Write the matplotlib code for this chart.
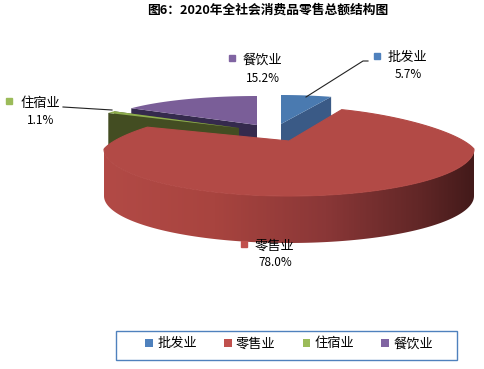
import numpy as np
import matplotlib
matplotlib.use("Agg")
import matplotlib.pyplot as plt
from matplotlib.patches import Polygon, Rectangle, Patch
from matplotlib.colors import LinearSegmentedColormap

plt.rcParams["font.family"] = ["Noto Sans CJK SC", "DejaVu Sans"]

title = "图6：2020年全社会消费品零售总额结构图"
categories = ["批发业", "零售业", "住宿业", "餐饮业"]
values = [5.7, 78.0, 1.1, 15.2]
colors = ["#4f81bd", "#c0504d", "#9bbb59", "#8064a2"]
top_colors = ["#4a7ab0", "#b24a46", "#8fae4f", "#7a5e98"]
side_colors = ["#3a5a86", "#b24a46", "#434d22", "#352a4d"]

# cx, cy, rx, ry, depth of each slice in pixels
geometry = [
    (281, 124, 143, 29, 35),
    (289, 149, 185, 47, 47),
    (239, 128, 153, 29, 35),
    (257, 125, 154, 29, 35),
]
# where the label sits: square x, text x, y of name, y of percent
label_pos = [
    (377, 407, 58, 75),
    (244, 274, 246, 263),
    (9, 40, 103, 120),
    (232, 262, 60, 78),
]

fig = plt.figure(figsize=(4.84, 3.69), dpi=100)
ax = fig.add_axes([0, 0, 1, 1])
ax.axis("off")

# slice angles, clockwise from 12 o'clock
total = sum(values)
ends = np.cumsum(values) / total * 2 * np.pi
starts = np.concatenate([[0], ends[:-1]])


def edge(i, theta):
    cx, cy, rx, ry, depth = geometry[i]
    if i == 1:
        # retail slice: far half is pulled in for the perspective
        x = cx + rx * np.sin(theta) * (1 - 0.2 * np.clip(np.cos(theta), 0, None))
        y = cy - np.where(np.cos(theta) > 0, 42, ry) * np.cos(theta)
    else:
        x = cx + rx * np.sin(theta)
        y = cy - ry * np.cos(theta)
    return x, y


def draw_back_slice(i, z):
    cx, cy, rx, ry, depth = geometry[i]
    theta = np.linspace(starts[i], ends[i], 60)
    x, y = edge(i, theta)
    for k in [-1, 0]:
        cut = [(cx, cy), (x[k], y[k]), (x[k], y[k] + depth), (cx, cy + depth)]
        ax.add_patch(Polygon(cut, fc=side_colors[i], ec="none", zorder=z))
    pts = [(cx, cy)] + list(zip(x, y))
    ax.add_patch(Polygon(pts, fc=top_colors[i], ec="none", zorder=z + 0.5))


draw_back_slice(3, 1)
draw_back_slice(2, 2)
draw_back_slice(0, 3)

# retail slice last, it covers the inner parts of the others
cx, cy, rx, ry, depth = geometry[1]
wall_cmap = LinearSegmentedColormap.from_list(
    "wall", [(0, "#b24a46"), (0.3, "#a8443f"), (0.6, "#8a3737"), (0.85, "#622727"), (1, "#431a1a")])
theta = np.linspace(np.pi / 2, 3 * np.pi / 2, 181)
x, y = edge(1, theta)
wall = Polygon(list(zip(x, y)) + list(zip(x[::-1], y[::-1] + depth)), fc="none", ec="none",
               transform=ax.transData)
ax.add_patch(wall)
grad = np.linspace(0, 1, 256).reshape(1, -1)
img = ax.imshow(grad, cmap=wall_cmap, aspect="auto", zorder=5, vmin=0, vmax=1,
                extent=(cx - rx, cx + rx, y.max() + depth, y.min() - 2))
img.set_clip_path(wall)

theta = np.linspace(starts[1], ends[1], 240)
x, y = edge(1, theta)
# edge in the face colour closes the seam against the wall
ax.add_patch(Polygon([(cx, cy - 8)] + list(zip(x, y)), fc=top_colors[1], ec=top_colors[1], lw=0.8, zorder=6))

ax.set_xlim(0, 484)
ax.set_ylim(369, 0)

# leader lines
ax.plot([306, 363, 368], [97, 61, 61], color="#222222", lw=0.8, zorder=7)
ax.plot([63, 112], [107, 110], color="#222222", lw=0.8, zorder=7)

# data labels
for i, name in enumerate(categories):
    sq_x, txt_x, name_y, pct_y = label_pos[i]
    ax.plot([sq_x], [name_y - 2], marker="s", ms=5, color=colors[i], ls="none", zorder=8)
    ax.text(txt_x, name_y, name, fontsize=9.5, ha="center", va="center", color="black", zorder=8)
    ax.text(txt_x + 1, pct_y, "%.1f%%" % values[i], fontsize=8.5, ha="center", va="center", color="black", zorder=8)

ax.text(268, 10, title, fontsize=9.2, fontweight="bold", ha="center", va="center", color="black")

# legend box is wider than its entries
ax.add_patch(Rectangle((115.5, 330.5), 341, 29, fc="white", ec="#4f81bd", lw=1.0, zorder=8))
handles = [Patch(fc=c, ec="none") for c in colors]
ax.legend(handles, categories, ncol=4, loc="center", bbox_to_anchor=(289 / 484, 1 - 344 / 369),
          fontsize=9.5, frameon=False, handlelength=0.6, handleheight=0.6, handletextpad=0.3,
          columnspacing=2.05, borderaxespad=0, borderpad=0).set_zorder(9)

fig.savefig("out.png", dpi=100)
